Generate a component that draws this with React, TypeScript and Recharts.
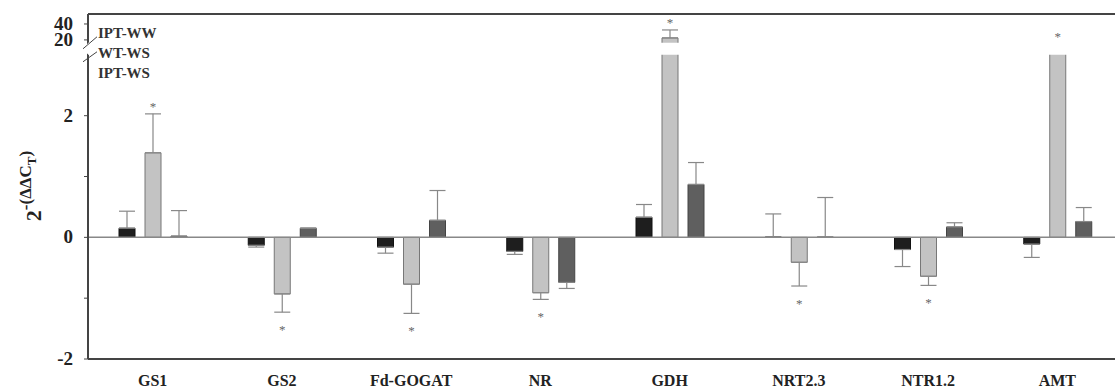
import {
  Bar,
  BarChart,
  ErrorBar,
  LabelList,
  Legend,
  ReferenceArea,
  ReferenceLine,
  XAxis,
  YAxis,
} from "recharts";

// genes on the x axis
const genes = ["GS1", "GS2", "Fd-GOGAT", "NR", "GDH", "NRT2.3", "NTR1.2", "AMT"];
const seriesNames = ["IPT-WW", "WT-WS", "IPT-WS"];

// 2^-(ddCt) values and one-sided errors
const iptWW = [0.15, -0.13, -0.16, -0.23, 0.33, 0.005, -0.2, -0.11];
const iptWWErr = [0.28, 0.03, 0.1, 0.05, 0.21, 0.38, 0.28, 0.22];
const wtWS = [1.39, -0.93, -0.77, -0.91, 22.5, -0.41, -0.64, 15];
const wtWSErr = [0.64, 0.3, 0.48, 0.11, 10, 0.39, 0.15, 0];
const wtWSSig = [true, true, true, true, true, true, true, true];
const iptWS = [0.02, 0.15, 0.28, -0.74, 0.87, 0.005, 0.17, 0.26];
const iptWSErr = [0.42, 0, 0.49, 0.1, 0.36, 0.65, 0.07, 0.23];

// broken y axis: linear up to 3, then 20..40 squeezed on top
const BREAK_LOW = 3;
const BREAK_HIGH = 3.2;
const BREAK_MID = 3.1;
const UPPER_BASE = 3.246; // where 20 sits
const UPPER_STEP = 0.0131; // per unit above the break
const Y_TOP = 3.672;

const yTickValues = [-2, -1, 0, 1, 2, 20, 40];
const yTickLabels = ["-2", "", "0", "", "2", "20", "40"];

const t = (v: number) => (v <= BREAK_LOW ? v : UPPER_BASE + (v - 20) * UPPER_STEP);

const errPair = (v: number, e: number) =>
  v >= 0 ? [0, t(v + e) - t(v)] : [t(v) - t(v - e), 0];

const data = genes.map((gene, i) => ({
  gene,
  ww: t(iptWW[i]),
  wwErr: errPair(iptWW[i], iptWWErr[i]),
  ws: t(wtWS[i]),
  wsErr: errPair(wtWS[i], wtWSErr[i]),
  ipt: t(iptWS[i]),
  iptErr: errPair(iptWS[i], iptWSErr[i]),
}));

const yTicks = [...yTickValues.map(t), BREAK_MID].sort((a, b) => a - b);

const SERIF = "'Liberation Serif', 'Times New Roman', serif";

function YTick(props: any) {
  const { x, y, payload } = props;
  const axisX = x + 8;
  const v = payload.value;
  if (Math.abs(v - BREAK_MID) < 1e-6) {
    return (
      <g>
        <rect x={axisX - 3} y={y - 5} width={6} height={10} fill="#fff" />
        <line x1={axisX - 5} y1={y} x2={axisX + 9} y2={y - 12} stroke="#444" strokeWidth={1} />
        <line x1={axisX - 5} y1={y + 13} x2={axisX + 9} y2={y + 3} stroke="#444" strokeWidth={1} />
      </g>
    );
  }
  const idx = yTickValues.findIndex((tv) => Math.abs(t(tv) - v) < 1e-6);
  const label = idx >= 0 ? yTickLabels[idx] : "";
  return (
    <g>
      <line x1={axisX - 4} y1={y} x2={axisX} y2={y} stroke="#444" strokeWidth={1} />
      {label && (
        <text
          x={x - 7}
          y={y + 6}
          textAnchor="end"
          fontFamily={SERIF}
          fontWeight="bold"
          fontSize={19}
          fill="#222"
        >
          {label}
        </text>
      )}
    </g>
  );
}

function YLabel() {
  const cx = 41;
  const cy = 186;
  return (
    <text
      x={cx}
      y={cy}
      transform={`rotate(-90, ${cx}, ${cy})`}
      textAnchor="middle"
      fontFamily={SERIF}
      fontWeight="bold"
      fill="#222"
    >
      <tspan fontSize={22}>2</tspan>
      <tspan fontSize={17} dy={-10}>
        -(ΔΔC
      </tspan>
      <tspan fontSize={13} dy={5}>
        T
      </tspan>
      <tspan fontSize={17} dy={-5}>
        )
      </tspan>
    </text>
  );
}

function Star(props: any) {
  const { x, y, width, height, value, index } = props;
  if (!wtWSSig[index] || value == null) return null;
  const top = Math.min(y, y + height);
  const bottom = Math.max(y, y + height);
  const ppu = value !== 0 ? Math.abs(height) / Math.abs(value) : 0;
  const [lo, hi] = data[index].wsErr;
  const cx = x + width / 2;
  const ty = value >= 0 ? top - hi * ppu - 3 : bottom + lo * ppu + 22;
  return (
    <text x={cx} y={ty} textAnchor="middle" fontSize={13} fill="#666" fontFamily={SERIF}>
      *
    </text>
  );
}

function LegendText() {
  return (
    <div style={{ fontFamily: SERIF, fontWeight: "bold", fontSize: 15, color: "#333", lineHeight: "20px" }}>
      {seriesNames.map((n) => (
        <div key={n}>{n}</div>
      ))}
    </div>
  );
}

export default function App() {
  return (
    <div
      style={{
        position: "absolute",
        left: 0,
        top: 0,
        width: 1115,
        height: 390,
        overflow: "hidden",
        background: "#fff",
      }}
    >
      <BarChart
        width={1125}
        height={390}
        data={data}
        margin={{ top: 14, right: 3, bottom: 6, left: 0 }}
        barSize={16}
        barGap={10}
      >
        <XAxis
          dataKey="gene"
          axisLine={{ stroke: "#444", strokeWidth: 2 }}
          tickLine={false}
          height={25}
          tick={{ fontFamily: SERIF, fontWeight: "bold", fontSize: 16, fill: "#222", dy: 8 }}
        />
        <YAxis
          type="number"
          domain={[-2, Y_TOP]}
          ticks={yTicks}
          interval={0}
          width={88}
          tickSize={4}
          tickMargin={4}
          tickLine={false}
          axisLine={{ stroke: "#444", strokeWidth: 2 }}
          tick={<YTick />}
          label={<YLabel />}
          allowDataOverflow
        />
        <Legend
          layout="vertical"
          align="center"
          verticalAlign="middle"
          content={<LegendText />}
          wrapperStyle={{ top: 23, left: 98, width: 80 }}
        />
        <ReferenceLine y={Y_TOP} stroke="#444" strokeWidth={2} />
        <ReferenceLine y={0} stroke="#888" strokeWidth={1.5} />
        <Bar dataKey="ww" name="IPT-WW" fill="#1e1e1e" stroke="#111" isAnimationActive={false}>
          <ErrorBar dataKey="wwErr" width={8} stroke="#888" strokeWidth={1.2} direction="y" />
        </Bar>
        <Bar dataKey="ws" name="WT-WS" fill="#c3c3c3" stroke="#777" isAnimationActive={false}>
          <ErrorBar dataKey="wsErr" width={8} stroke="#888" strokeWidth={1.2} direction="y" />
          <LabelList dataKey="ws" content={<Star />} />
        </Bar>
        <Bar dataKey="ipt" name="IPT-WS" fill="#5f5f5f" stroke="#444" isAnimationActive={false}>
          <ErrorBar dataKey="iptErr" width={8} stroke="#888" strokeWidth={1.2} direction="y" />
        </Bar>
        <ReferenceArea
          y1={BREAK_LOW}
          y2={BREAK_HIGH}
          fill="#fff"
          fillOpacity={1}
          stroke="none"
          zIndex={700}
        />
      </BarChart>
    </div>
  );
}
